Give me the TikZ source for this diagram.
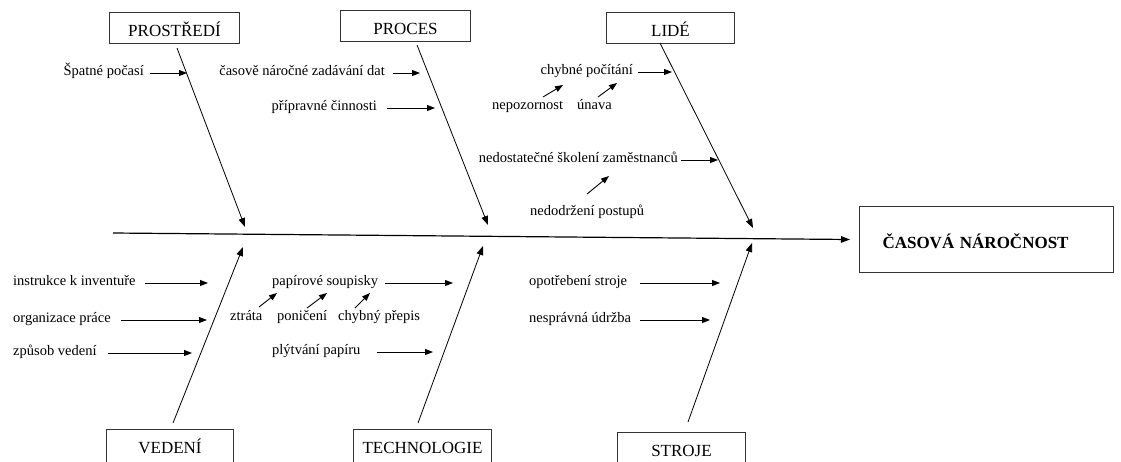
\documentclass[tikz,border=0pt]{standalone}
\usepackage{fontspec}
\setmainfont{Liberation Serif}
\usetikzlibrary{arrows.meta}
\begin{document}
\begin{tikzpicture}[x=1pt,y=-1pt,
  lbl/.style={inner sep=0pt, font=\fontsize{14.5}{17}\selectfont},
  arr/.style={-{Triangle[length=8pt,width=6pt]}, line width=0.9pt},
  bone/.style={-{Triangle[length=9pt,width=6.5pt]}, line width=0.8pt},
  cat/.style={draw=black!80, line width=1pt, inner sep=0pt, minimum height=31pt,
              text height=17pt, text depth=0pt, font=\fontsize{17}{20}\selectfont, anchor=north west},
  catb/.style={cat, minimum height=34pt, text height=14pt}]
\useasboundingbox (0,0) rectangle (1121,461);
\clip (0,0) rectangle (1121,461);

% category boxes
\node[cat, minimum width=130pt] (prost) at (109,12) {PROSTŘEDÍ};
\node[cat, minimum width=130pt] (proc) at (340,10) {PROCES};
\node[cat, minimum width=128pt] (lide) at (606,12) {LIDÉ\hspace{20pt}};
\node[catb, minimum width=127pt] (ved) at (106,429) {VEDENÍ};
\node[catb, minimum width=138pt] (tech) at (353,429) {TECHNOLOGIE};
\node[catb, minimum width=128pt] (stroj) at (617,432) {STROJE};

% result box
\node[draw=black!80, line width=1pt, anchor=north west, inner xsep=23pt, inner ysep=0pt,
      minimum width=254pt, minimum height=66pt, text width=208pt, align=left,
      text height=18pt, text depth=0pt, font=\bfseries\fontsize{17}{20}\selectfont] (res) at (859,206) {ČASOVÁ NÁROČNOST};

% spine
\coordinate (spine) at (113,233);
\draw[line width=1.2pt, -{Triangle[length=9pt,width=6.5pt]}] (spine) -- ([xshift=-9pt]res.west);

% bones
\coordinate (bp1) at (177,48);  \coordinate (bp2) at (245,227);
\coordinate (bq1) at (417,45);  \coordinate (bq2) at (488,225);
\coordinate (bl1) at (660,43);  \coordinate (bl2) at (753,228);
\coordinate (bv1) at (173,423); \coordinate (bv2) at (243,247);
\coordinate (bt1) at (418,423); \coordinate (bt2) at (483,246);
\coordinate (bs1) at (688,422); \coordinate (bs2) at (752,243);
\draw[bone] (bp1) -- (bp2);
\draw[bone] (bq1) -- (bq2);
\draw[bone] (bl1) -- (bl2);
\draw[bone] (bv1) -- (bv2);
\draw[bone] (bt1) -- (bt2);
\draw[bone] (bs1) -- (bs2);

% PROSTREDI
\node[lbl, anchor=mid east] (l1) at (144,73) {Špatné počasí};
\coordinate (t1) at (187,73);
\draw[arr] ([xshift=6pt]l1.mid east) -- (t1);

% PROCES
\node[lbl, anchor=mid east] (l2) at (385,73) {časově náročné zadávání dat};
\coordinate (t2) at (420,73);
\draw[arr] ([xshift=8pt]l2.mid east) -- (t2);
\node[lbl, anchor=mid east] (l3) at (377,108) {přípravné činnosti};
\coordinate (t3) at (435,108);
\draw[arr] ([xshift=10pt]l3.mid east) -- (t3);

% LIDE
\node[lbl, anchor=mid east] (l4) at (633,72) {chybné počítání};
\coordinate (t4) at (672,72);
\draw[arr] ([xshift=5pt]l4.mid east) -- (t4);
\node[lbl, anchor=mid west] (l5) at (492,107) {nepozornost};
\coordinate (s5) at (543,97); \coordinate (t5) at (563,85);
\draw[arr] (s5) -- (t5);
\node[lbl, anchor=mid west] (l6) at (577,107) {únava};
\coordinate (s6) at (598,97); \coordinate (t6) at (617,83);
\draw[arr] (s6) -- (t6);
\node[lbl, anchor=mid east] (l7) at (678,160) {nedostatečné školení zaměstnanců};
\coordinate (t7) at (718,160);
\draw[arr] ([xshift=3pt]l7.mid east) -- (t7);
\node[lbl, anchor=mid west] (l8) at (530,213) {nedodržení postupů};
\coordinate (s8) at (587,194); \coordinate (t8) at (609,176);
\draw[arr] (s8) -- (t8);

% VEDENI
\node[lbl, anchor=mid west] (l9) at (13,283) {instrukce k inventuře};
\coordinate (t9) at (208,283);
\draw[arr] ([xshift=9pt]l9.mid east) -- (t9);
\node[lbl, anchor=mid west] (l10) at (13,320) {organizace práce};
\coordinate (t10) at (207,320);
\draw[arr] ([xshift=10pt]l10.mid east) -- (t10);
\node[lbl, anchor=mid west] (l11) at (13,353) {způsob vedení};
\coordinate (t11) at (192,353);
\draw[arr] ([xshift=11pt]l11.mid east) -- (t11);

% TECHNOLOGIE
\node[lbl, anchor=mid west] (l12) at (272,283) {papírové soupisky};
\coordinate (t12) at (453,283);
\draw[arr] ([xshift=7pt]l12.mid east) -- (t12);
\node[lbl, anchor=mid west] (l13) at (230,318) {ztráta};
\coordinate (s13) at (259,307); \coordinate (t13) at (277,293);
\draw[arr] (s13) -- (t13);
\node[lbl, anchor=mid west] (l14) at (277,318) {poničení};
\coordinate (s14) at (307,308); \coordinate (t14) at (327,293);
\draw[arr] (s14) -- (t14);
\node[lbl, anchor=mid west] (l15) at (338,318) {chybný přepis};
\coordinate (s15) at (355,308); \coordinate (t15) at (370,293);
\draw[arr] (s15) -- (t15);
\node[lbl, anchor=mid west] (l16) at (272,352) {plýtvání papíru};
\coordinate (t16) at (433,352);
\draw[arr] ([xshift=16pt]l16.mid east) -- (t16);

% STROJE
\node[lbl, anchor=mid west] (l17) at (529,283) {opotřebení stroje};
\coordinate (t17) at (720,283);
\draw[arr] ([xshift=13pt]l17.mid east) -- (t17);
\node[lbl, anchor=mid west] (l18) at (529,320) {nesprávná údržba};
\coordinate (t18) at (710,320);
\draw[arr] ([xshift=9pt]l18.mid east) -- (t18);
\end{tikzpicture}
\end{document}
